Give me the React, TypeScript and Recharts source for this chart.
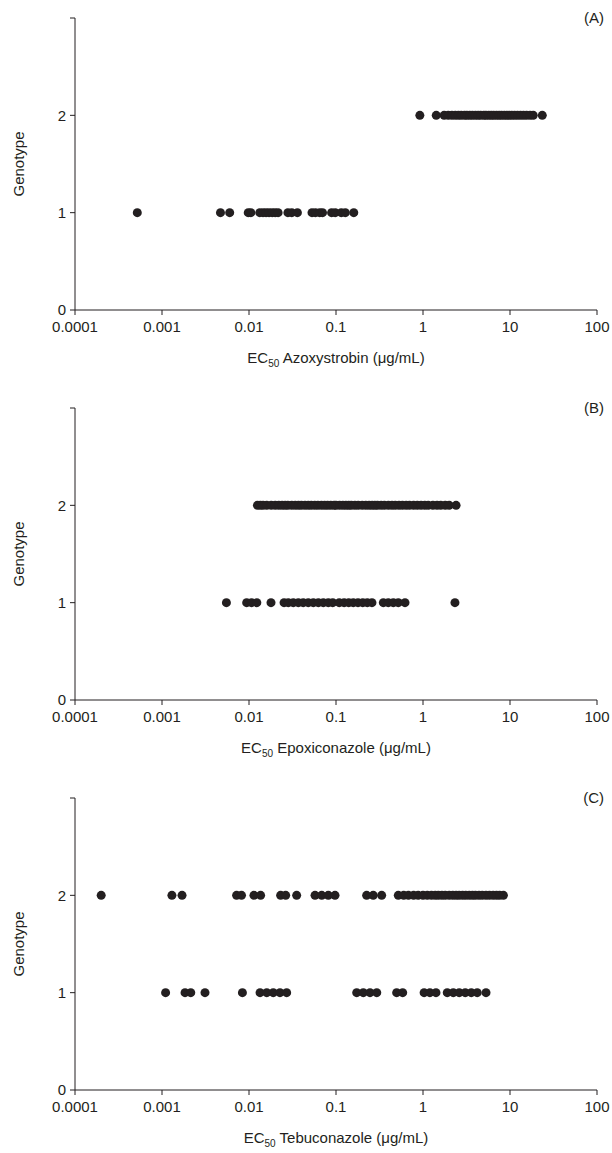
import { ScatterChart, Scatter, XAxis, YAxis, Label } from 'recharts';

const INK = '#231f20';
const FONT = '"Liberation Sans", Arial, Helvetica, sans-serif';

const xTicks = [0.0001, 0.001, 0.01, 0.1, 1, 10, 100];
const xTickLabels = ['0.0001', '0.001', '0.01', '0.1', '1', '10', '100'];
const yTicks = [0, 1, 2, 3];
const yTickLabels = ['0', '1', '2', ''];

// (A) Azoxystrobin
const azoxyG1 = [
  0.00052, 0.0047, 0.006, 0.0098, 0.0105, 0.0133, 0.0145, 0.0157, 0.017, 0.0185, 0.02, 0.0216,
  0.028, 0.031, 0.036, 0.053, 0.058, 0.065, 0.07, 0.089, 0.098, 0.115, 0.128, 0.16,
];
const azoxyG2 = [
  0.92, 1.42, 1.75, 1.95, 2.15, 2.35, 2.55, 2.75, 3.0, 3.2, 3.45, 3.7, 4.0, 4.3, 4.6, 5.0, 5.3,
  5.7, 6.1, 6.5, 7.0, 7.5, 8.0, 8.6, 9.2, 9.8, 10.5, 11.3, 12.2, 13.2, 14.3, 15.5, 17.0, 18.5, 23.5,
];

// (B) Epoxiconazole
const epoxG1 = [
  0.0055, 0.0094, 0.0107, 0.0123, 0.0179, 0.0253, 0.0283, 0.0323, 0.0369, 0.042, 0.048, 0.0549,
  0.0627, 0.0715, 0.0816, 0.0917, 0.109, 0.124, 0.14, 0.158, 0.179, 0.203, 0.229, 0.259, 0.35,
  0.399, 0.456, 0.52, 0.621, 2.33,
];
const epoxG2 = [
  0.0125, 0.0135, 0.0145, 0.016, 0.018, 0.02, 0.022, 0.024, 0.026, 0.028, 0.031, 0.034, 0.037,
  0.04, 0.044, 0.048, 0.052, 0.057, 0.062, 0.068, 0.074, 0.08, 0.087, 0.095, 0.1, 0.11, 0.12,
  0.13, 0.14, 0.15, 0.165, 0.18, 0.2, 0.22, 0.24, 0.26, 0.28, 0.3, 0.33, 0.36, 0.4, 0.44, 0.48,
  0.53, 0.58, 0.64, 0.7, 0.78, 0.86, 0.95, 1.05, 1.15, 1.3, 1.45, 1.6, 1.8, 2.0, 2.4,
];

// (C) Tebuconazole
const tebuG1 = [
  0.0011, 0.00184, 0.00214, 0.00312, 0.0084, 0.0134, 0.016, 0.019, 0.0227, 0.0271, 0.173, 0.206,
  0.246, 0.294, 0.498, 0.584, 1.03, 1.2, 1.41, 1.9, 2.23, 2.61, 3.06, 3.59, 4.2, 5.3,
];
const tebuG2 = [
  0.0002, 0.0013, 0.0017, 0.0072, 0.0082, 0.0114, 0.0136, 0.0231, 0.0264, 0.0353, 0.0574, 0.0685,
  0.0816, 0.0974, 0.225, 0.268, 0.335, 0.52, 0.6, 0.68, 0.78, 0.88, 1.0, 1.12, 1.25, 1.38, 1.5,
  1.65, 1.8, 2.0, 2.2, 2.4, 2.6, 2.85, 3.1, 3.4, 3.7, 4.0, 4.4, 4.8, 5.3, 5.8, 6.4, 7.0, 7.6, 8.4,
];

const panels = [
  { tag: '(A)', fungicide: 'Azoxystrobin', g1: azoxyG1, g2: azoxyG2 },
  { tag: '(B)', fungicide: 'Epoxiconazole', g1: epoxG1, g2: epoxG2 },
  { tag: '(C)', fungicide: 'Tebuconazole', g1: tebuG1, g2: tebuG2 },
];

const Dot = (props: any) => <circle cx={props.cx} cy={props.cy} r={4.5} fill={INK} />;

function Panel({ tag, fungicide, g1, g2 }: { tag: string; fungicide: string; g1: number[]; g2: number[] }) {
  const d1 = g1.map((v) => ({ x: v, y: 1 }));
  const d2 = g2.map((v) => ({ x: v, y: 2 }));

  return (
    <ScatterChart width={612} height={390} margin={{ top: 18, right: 15, left: 0, bottom: 0 }}>
      <XAxis
        type="number"
        dataKey="x"
        scale="log"
        domain={[0.0001, 100]}
        ticks={xTicks}
        allowDataOverflow
        height={80}
        tickSize={5}
        tickMargin={6}
        interval={0}
        tickFormatter={(v: number) => xTickLabels[xTicks.indexOf(v)] ?? String(v)}
        tick={{ fill: INK, fontSize: 15 }}
        stroke={INK}
      >
        <Label
          content={({ viewBox }: any) => {
            const cx = viewBox.x + viewBox.width / 2;
            const y = viewBox.y + 53;
            return (
              <g>
                <text x={cx} y={y} textAnchor="middle" fill={INK} fontSize={15}>
                  <tspan>EC</tspan>
                  <tspan fontSize={10} dy={4}>50</tspan>
                  <tspan dy={-4}>{` ${fungicide} (\u03bcg/mL)`}</tspan>
                </text>
                <text x={604} y={23} textAnchor="end" fill={INK} fontSize={15}>
                  {tag}
                </text>
              </g>
            );
          }}
        />
      </XAxis>
      <YAxis
        type="number"
        dataKey="y"
        domain={[0, 3]}
        ticks={yTicks}
        width={75}
        tickSize={5}
        tickMargin={4}
        interval={0}
        tickFormatter={(v: number) => yTickLabels[yTicks.indexOf(v)] ?? ''}
        tick={{ fill: INK, fontSize: 15 }}
        stroke={INK}
      >
        <Label
          content={({ viewBox }: any) => {
            const cy = viewBox.y + viewBox.height / 2;
            return (
              <text
                x={24}
                y={cy}
                textAnchor="middle"
                fill={INK}
                fontSize={15}
                transform={`rotate(-90, 24, ${cy})`}
              >
                Genotype
              </text>
            );
          }}
        />
      </YAxis>
      <Scatter data={d1} fill={INK} shape={Dot} isAnimationActive={false} />
      <Scatter data={d2} fill={INK} shape={Dot} isAnimationActive={false} />
    </ScatterChart>
  );
}

export default function App() {
  return (
    <div
      style={{
        position: 'absolute',
        left: 0,
        top: 0,
        width: 612,
        height: 1153,
        background: '#fff',
        fontFamily: FONT,
      }}
    >
      {panels.map((p) => (
        <Panel key={p.tag} {...p} />
      ))}
    </div>
  );
}
